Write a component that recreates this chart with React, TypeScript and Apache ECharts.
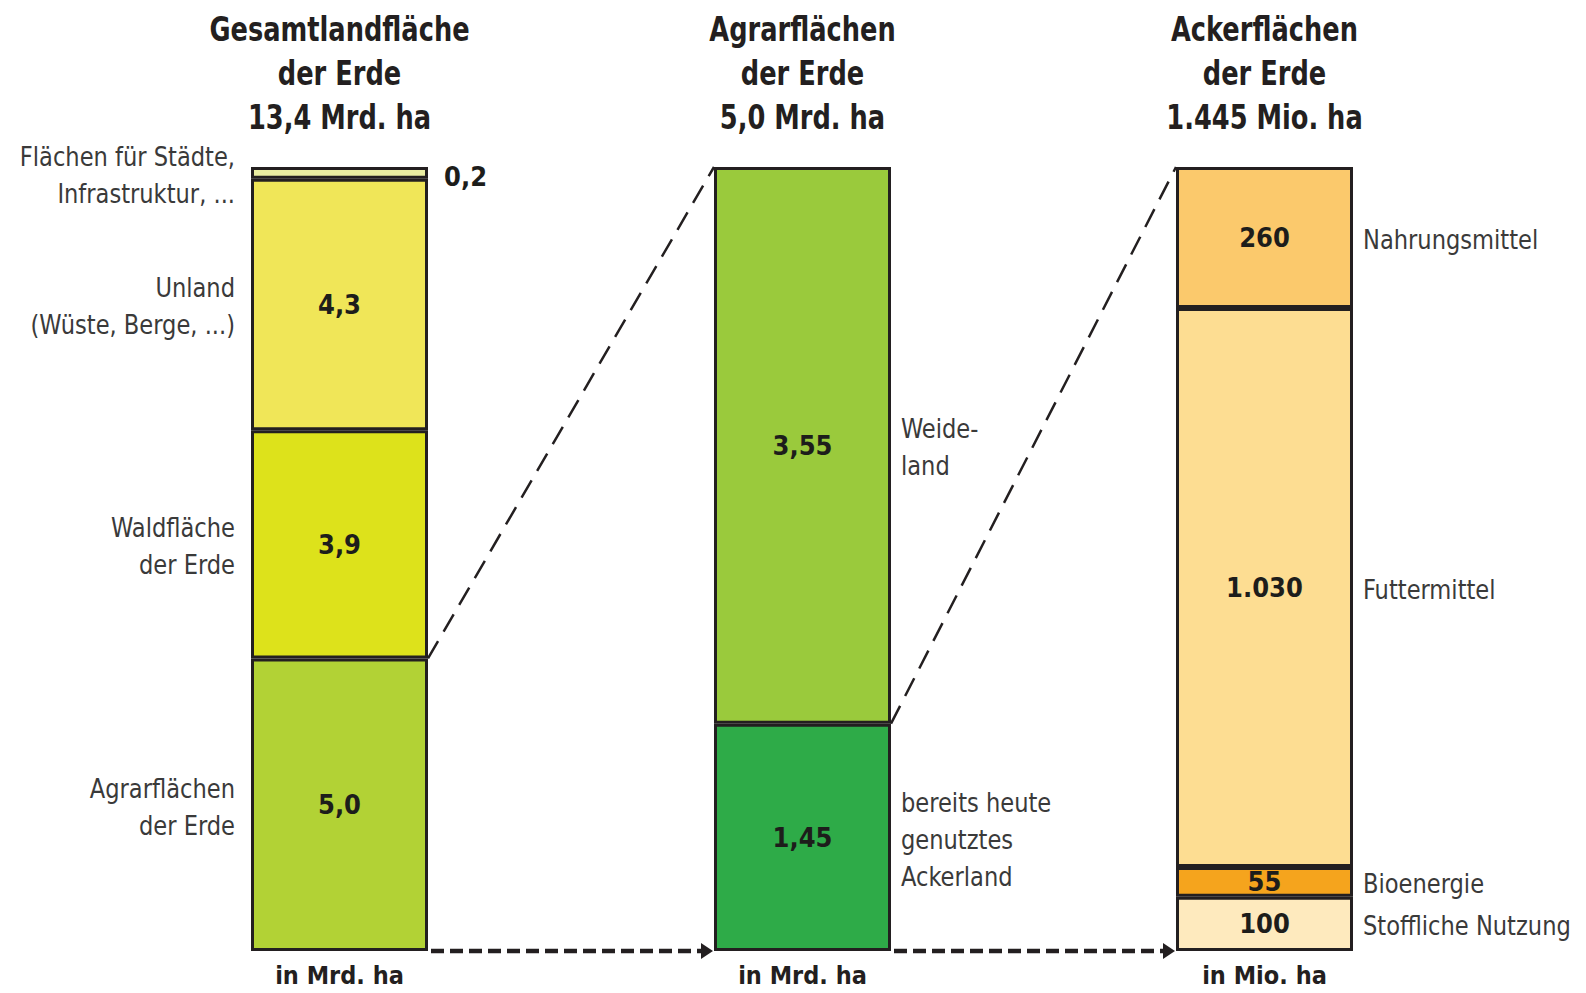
import React, { useEffect, useRef } from "react";
import * as echarts from "echarts";

const FONT = "'Liberation Sans Narrow', 'DejaVu Sans Condensed', 'Arial Narrow', sans-serif";

const titles = [
  "Gesamtlandfläche\nder Erde\n13,4 Mrd. ha",
  "Agrarflächen\nder Erde\n5,0 Mrd. ha",
  "Ackerflächen\nder Erde\n1.445 Mio. ha",
];
const units = ["in Mrd. ha", "in Mrd. ha", "in Mio. ha"];

// bottom to top
const landNames = ["Agrarflächen\nder Erde", "Waldfläche\nder Erde", "Unland\n(Wüste, Berge, ...)", "Flächen für Städte,\nInfrastruktur, ..."];
const landValues = [5.0, 3.9, 4.3, 0.2];
const landColors = ["#b2d235", "#dde21b", "#f0e658", "#eaeea2"];

const agrarNames = ["bereits heute\ngenutztes\nAckerland", "Weide-\nland"];
const agrarValues = [1.45, 3.55];
const agrarColors = ["#2eab48", "#9aca3c"];

const ackerNames = ["Stoffliche Nutzung", "Bioenergie", "Futtermittel", "Nahrungsmittel"];
const ackerValues = [100, 55, 1030, 260];
const ackerColors = ["#feeabe", "#f5a41d", "#fddd92", "#fbc96c"];

const BAR_LEFT = [251, 714, 1176];
const BAR_W = 177;
const TOP = 167;
const HEIGHT = 784;
const INK = "#231f20";

function fmt(v: number, d: number): string {
  const s = v.toFixed(d);
  const [int, frac] = s.split(".");
  const intG = int.replace(/\B(?=(\d{3})+(?!\d))/g, ".");
  return frac ? intG + "," + frac : intG;
}

const bars = [
  { values: landValues, names: landNames, colors: landColors, decimals: 1, side: "left" },
  { values: agrarValues, names: agrarNames, colors: agrarColors, decimals: 2, side: "right" },
  { values: ackerValues, names: ackerNames, colors: ackerColors, decimals: 0, side: "right" },
];

export default function App() {
  const ref = useRef<HTMLDivElement>(null);
  useEffect(() => {
    if (!ref.current) return;
    const chart = echarts.init(ref.current, undefined, { renderer: "svg" });
    const series: any[] = [];
    bars.forEach((b, i) => {
      b.values.forEach((v, j) => {
        const outside = i === 0 && j === b.values.length - 1;
        series.push({
          type: "bar",
          name: b.names[j],
          xAxisIndex: i,
          yAxisIndex: i,
          stack: "s" + i,
          barWidth: "100%",
          data: [v],
          silent: true,
          itemStyle: { color: b.colors[j], borderColor: INK, borderWidth: 3 },
          label: {
            show: true,
            position: outside ? "right" : "inside",
            distance: 16,
            offset: outside ? [0, 4] : [0, 0],
            formatter: () => fmt(v, b.decimals),
            fontFamily: FONT,
            fontSize: 27,
            fontWeight: "bold",
            color: "#1d1d1b",
          },
        });
      });
    });
    const totals = bars.map((b) => b.values.reduce((a, c) => a + c, 0));
    chart.setOption({
      animation: false,
      grid: bars.map((_, i) => ({ left: BAR_LEFT[i], width: BAR_W, top: TOP, height: HEIGHT })),
      xAxis: bars.map((_, i) => ({
        type: "category",
        gridIndex: i,
        data: [units[i]],
        axisLine: { show: false },
        axisTick: { show: false },
        axisLabel: { fontFamily: FONT, fontSize: 25, fontWeight: "bold", color: INK, margin: 12 },
      })),
      yAxis: bars.map((_, i) => ({
        type: "value",
        gridIndex: i,
        min: 0,
        max: totals[i],
        show: false,
        splitLine: { show: false },
      })),
      series,
    });

    const graphic: any[] = [];
    // titles
    titles.forEach((t, i) => {
      graphic.push({
        type: "text",
        x: BAR_LEFT[i] + BAR_W / 2,
        y: 7,
        scaleX: 0.84,
        style: {
          text: t,
          align: "center",
          verticalAlign: "top",
          fontFamily: FONT,
          fontSize: 34,
          fontWeight: "bold",
          lineHeight: 44,
          fill: INK,
        },
      });
    });
    // side labels
    bars.forEach((b, i) => {
      let cum = 0;
      b.values.forEach((v, j) => {
        const y = chart.convertToPixel({ gridIndex: i } as any, [0, cum + v / 2])[1];
        cum += v;
        const left = b.side === "left";
        graphic.push({
          type: "text",
          x: left ? BAR_LEFT[i] - 16 : BAR_LEFT[i] + BAR_W + 10,
          y: y + 2,
          scaleX: 0.93,
          style: {
            text: b.names[j],
            align: left ? "right" : "left",
            verticalAlign: "middle",
            fontFamily: FONT,
            fontSize: 27,
            lineHeight: 37,
            fill: "#3a3a3a",
          },
        });
      });
    });
    // connectors
    for (let i = 0; i < 2; i++) {
      const fromX = BAR_LEFT[i] + BAR_W;
      const toX = BAR_LEFT[i + 1];
      const yFrom = chart.convertToPixel({ gridIndex: i } as any, [0, bars[i].values[0]])[1];
      const yTo = chart.convertToPixel({ gridIndex: i + 1 } as any, [0, totals[i + 1]])[1];
      const yBase = chart.convertToPixel({ gridIndex: i } as any, [0, 0])[1];
      graphic.push({
        type: "line",
        shape: { x1: fromX, y1: yFrom, x2: toX, y2: yTo },
        style: { stroke: INK, lineWidth: 2.5, lineDash: [20, 11] },
      });
      graphic.push({
        type: "line",
        shape: { x1: fromX + 3, y1: yBase, x2: toX - 10, y2: yBase },
        style: { stroke: INK, lineWidth: 4.5, lineDash: [13, 6] },
      });
      graphic.push({
        type: "polygon",
        shape: { points: [[toX - 1, yBase], [toX - 13, yBase - 8], [toX - 13, yBase + 8]] },
        style: { fill: INK },
      });
    }
    chart.setOption({ graphic });
    return () => chart.dispose();
  }, []);
  return <div ref={ref} style={{ position: "fixed", left: 0, top: 0, width: 1586, height: 993, background: "#fff" }} />;
}
